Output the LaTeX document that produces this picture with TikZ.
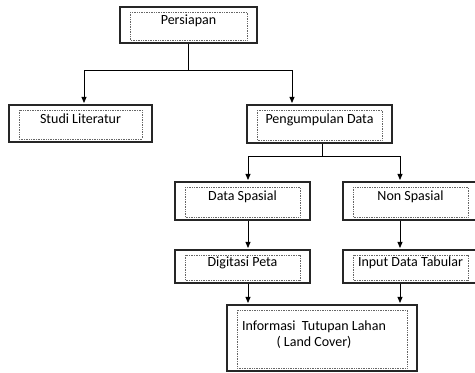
\documentclass[tikz,border=0pt]{standalone}
\usepackage{fontspec}
\setmainfont{Carlito}
\usetikzlibrary{arrows.meta,positioning,calc}

\tikzset{
  boxbase/.style={draw=black!85, line width=1.1pt, inner sep=0pt,
    font=\fontsize{14}{16}\selectfont,
    path picture={\draw[densely dotted, black!60, line width=0.7pt]
      ([xshift=10pt,yshift=-5pt]path picture bounding box.north west) rectangle
      ([xshift=-10pt,yshift=3pt]path picture bounding box.south east);}},
  stepbox/.style={boxbase, text height=9pt, text depth=10pt},
  arr/.style={-{Triangle[length=6pt,width=5pt]}, line width=0.8pt, shorten >=1.5pt},
  link/.style={line width=0.8pt}
}

\begin{document}
\begin{tikzpicture}[x=1pt, y=-1pt]

\useasboundingbox (0,0) rectangle (475,373);

% boxes
\node (prep) at (188.5,25) [stepbox, minimum width=137pt, minimum height=36pt] {Persiapan};
\node (lit) at (80.5,123.5) [stepbox, minimum width=143pt, minimum height=37pt] {Studi Literatur};
\node (kumpul) at (319.5,124) [stepbox, minimum width=145pt, minimum height=38pt] {Pengumpulan Data};
\node (spasial) at (242.5,201) [stepbox, minimum width=135pt, minimum height=38pt] {Data Spasial};
\node (nonsp) at (410.5,201) [stepbox, minimum width=135pt, minimum height=38pt] {Non Spasial};
\node (digit) at (242.5,266.5) [stepbox, minimum width=135pt, minimum height=33pt] {Digitasi Peta};
\node (tabular) at (410.5,266.5) [stepbox, minimum width=135pt, minimum height=33pt] {Input Data Tabular};
\node (info) at (322,338) [boxbase, minimum width=190pt, minimum height=66pt,
  label={[name=infotext, align=center, font=\fontsize{14}{16}\selectfont,
          xshift=-8pt, yshift=3pt]center:Informasi~ Tutupan Lahan\\( Land Cover)}] {};

% first split
\coordinate (fork1) at ($(prep.south)+(0,27)$);
\draw[link] (prep.south) -- (fork1);
\draw[arr] (fork1) -| ([xshift=3.5pt]lit.north);
\draw[arr] (fork1) -| ([xshift=-27.5pt]kumpul.north);

% second split
\coordinate (fork2) at ($([xshift=2.5pt]kumpul.south)+(0,13)$);
\draw[link] ([xshift=2.5pt]kumpul.south) -- (fork2);
\draw[arr] (fork2) -| ([xshift=5.5pt]spasial.north);
\draw[arr] (fork2) -| ([xshift=-10.5pt]nonsp.north);

% down to processing
\draw[arr] ([xshift=5.5pt]spasial.south) -- ([xshift=5.5pt]digit.north);
\draw[arr] ([xshift=-10.5pt]nonsp.south) -- ([xshift=-10.5pt]tabular.north);

% down to result
\draw[arr] ([xshift=5.5pt]digit.south) -- ([xshift=5.5pt]digit.south |- info.north);
\draw[arr] ([xshift=-10.5pt]tabular.south) -- ([xshift=-10.5pt]tabular.south |- info.north);

\end{tikzpicture}
\end{document}
